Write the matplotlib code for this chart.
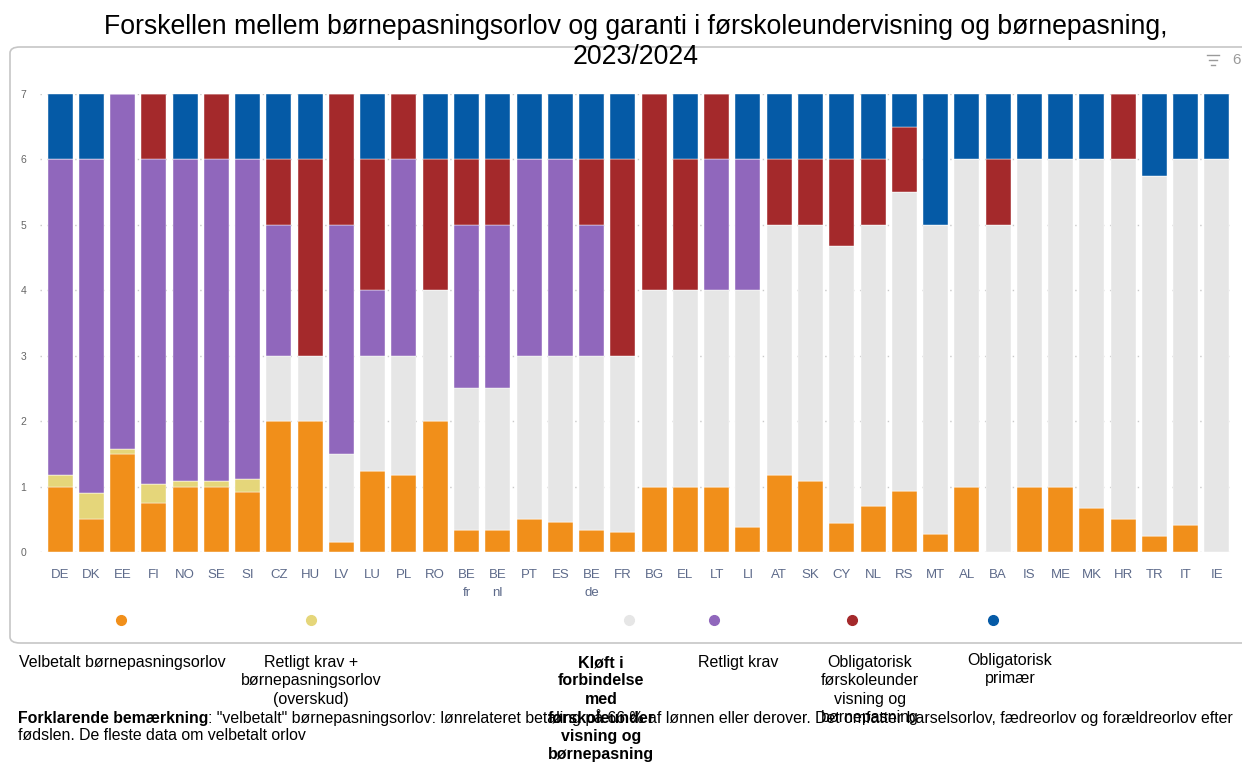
import numpy as np
import matplotlib.pyplot as plt
from matplotlib.patches import FancyBboxPatch
from matplotlib.lines import Line2D

plt.rcParams['font.family'] = ['Liberation Sans', 'DejaVu Sans']

# categories
countries = ['DE', 'DK', 'EE', 'FI', 'NO', 'SE', 'SI', 'CZ', 'HU', 'LV', 'LU', 'PL', 'RO',
             'BE\nfr', 'BE\nnl', 'PT', 'ES', 'BE\nde', 'FR', 'BG', 'EL', 'LT', 'LI', 'AT', 'SK',
             'CY', 'NL', 'RS', 'MT', 'AL', 'BA', 'IS', 'ME', 'MK', 'HR', 'TR', 'IT', 'IE']

# series values (years), stacked bottom -> top
velbetalt = [1.0, 0.5, 1.5, 0.75, 1.0, 1.0, 0.92, 2.0, 2.0, 0.16, 1.24, 1.17, 2.0,
             0.33, 0.33, 0.5, 0.46, 0.33, 0.31, 1.0, 1.0, 1.0, 0.38, 1.17, 1.08,
             0.44, 0.7, 0.93, 0.27, 1.0, 0.0, 1.0, 1.0, 0.67, 0.5, 0.25, 0.42, 0.0]
overskud = [0.17, 0.4, 0.08, 0.29, 0.08, 0.08, 0.19, 0, 0, 0, 0, 0, 0,
            0, 0, 0, 0, 0, 0, 0, 0, 0, 0, 0, 0,
            0, 0, 0, 0, 0, 0, 0, 0, 0, 0, 0, 0, 0]
kloft = [0, 0, 0, 0, 0, 0, 0, 1.0, 1.0, 1.34, 1.76, 1.83, 2.0,
         2.17, 2.17, 2.5, 2.54, 2.67, 2.69, 3.0, 3.0, 3.0, 3.62, 3.83, 3.92,
         4.23, 4.3, 4.57, 4.73, 5.0, 5.0, 5.0, 5.0, 5.33, 5.5, 5.5, 5.58, 6.0]
retligt = [4.83, 5.1, 5.42, 4.96, 4.92, 4.92, 4.89, 2.0, 0, 3.5, 1.0, 3.0, 0,
           2.5, 2.5, 3.0, 3.0, 2.0, 0, 0, 0, 2.0, 2.0, 0, 0,
           0, 0, 0, 0, 0, 0, 0, 0, 0, 0, 0, 0, 0]
oblig_forskole = [0, 0, 0, 1.0, 0, 1.0, 0, 1.0, 3.0, 2.0, 2.0, 1.0, 2.0,
                  1.0, 1.0, 0, 0, 1.0, 3.0, 3.0, 2.0, 1.0, 0, 1.0, 1.0,
                  1.33, 1.0, 1.0, 0, 0, 1.0, 0, 0, 0, 1.0, 0, 0, 0]
oblig_primaer = [1.0, 1.0, 0, 0, 1.0, 0, 1.0, 1.0, 1.0, 0, 1.0, 0, 1.0,
                 1.0, 1.0, 1.0, 1.0, 1.0, 1.0, 0, 1.0, 0, 1.0, 1.0, 1.0,
                 1.0, 1.0, 0.5, 2.0, 1.0, 1.0, 1.0, 1.0, 1.0, 0, 1.25, 1.0, 1.0]

series = [velbetalt, overskud, kloft, retligt, oblig_forskole, oblig_primaer]
colors = ['#F18F1A', '#E5D67A', '#E6E6E6', '#9067BC', '#A4292B', '#055AA6']
labels = ['Velbetalt børnepasningsorlov',
          'Retligt krav +\nbørnepasningsorlov\n(overskud)',
          'Kløft i\nforbindelse\nmed\nførskoleunder\nvisning og\nbørnepasning',
          'Retligt krav',
          'Obligatorisk\nførskoleunder\nvisning og\nbørnepasning',
          'Obligatorisk\nprimær']

W, H = 1242, 763
fig = plt.figure(figsize=(W / 100, H / 100), dpi=100)


def fx(px):
    return px / W


def fy(py):
    return 1 - py / H


# card background
card = FancyBboxPatch((fx(10), fy(643)), fx(1260) - fx(10), fy(47) - fy(643),
                      boxstyle='round,pad=0,rounding_size=0.008',
                      transform=fig.transFigure, facecolor='white',
                      edgecolor='#c6c6c6', linewidth=1.2, zorder=-5)
fig.patches.append(card)

fig.text(0.512, fy(42), 'Forskellen mellem børnepasningsorlov og garanti i førskoleundervisning og børnepasning,\n2023/2024',
         ha='center', va='center', fontsize=19.2, color='black', linespacing=1.15, zorder=5)

# filter icon in the top right
for w, yy in [(12, 55), (8, 60), (4, 65)]:
    fig.add_artist(Line2D([fx(1213 - w / 2), fx(1213 + w / 2)], [fy(yy), fy(yy)],
                          transform=fig.transFigure, color='#9a9a9a', lw=1))
fig.text(fx(1232), fy(60), '6', fontsize=11, color='#9a9a9a', va='center', ha='left')

ax = fig.add_axes([fx(40), fy(552), fx(1232) - fx(40), (552 - 94) / H])
ax.set_zorder(2)
x = np.arange(len(countries))
bottom = np.zeros(len(countries))
for vals, c in zip(series, colors):
    v = np.array(vals, dtype=float)
    ax.bar(x, v, bottom=bottom, width=0.8, color=c, edgecolor='white', linewidth=0.3, zorder=3)
    bottom += v

ax.set_xlim(-0.64, 37.48)
ax.set_ylim(0, 7)
ax.set_yticks(range(8))
ax.yaxis.grid(True, linestyle=(0, (1, 4)), color='#c8c8c8', linewidth=1, zorder=0)
for s in ax.spines.values():
    s.set_visible(False)
ax.tick_params(axis='y', length=0, labelsize=7.5, labelcolor='#666666', pad=10)
ax.set_xticks(x)
ax.set_xticklabels(countries, fontsize=9.5, color='#5d6a8a', linespacing=1.75)
ax.tick_params(axis='x', length=0, pad=12)
ax.set_facecolor('none')

# legend dots
dot_x = [121, 311, 629, 714, 852, 993]
for px, c in zip(dot_x, colors):
    fig.add_artist(Line2D([fx(px)], [fy(620)], marker='o', markersize=7, color=c,
                          linestyle='none', transform=fig.transFigure))

# legend labels under the card
lab_pos = [(122, 655), (311, 655), (601, 655), (738, 655), (870, 655), (1010, 653)]
for (px, py), lab, k in zip(lab_pos, labels, range(6)):
    fig.text(fx(px), fy(py), lab, ha='center', va='top', fontsize=11.5,
             fontweight='bold' if k == 2 else 'normal', color='black', linespacing=1.29)

# explanatory note: bold lead-in followed by normal text
note_b = fig.text(fx(18), fy(723), 'Forklarende bemærkning', fontsize=11.45,
                  fontweight='bold', va='baseline')
renderer = fig.canvas.get_renderer()
bw = note_b.get_window_extent(renderer).width
fig.text(fx(18 + bw), fy(723),
         ': "velbetalt" børnepasningsorlov: lønrelateret betaling på 66 % af lønnen eller derover. '
         'Det omfatter barselsorlov, fædreorlov og forældreorlov efter', fontsize=11.45, va='baseline')
fig.text(fx(18), fy(740), 'fødslen. De fleste data om velbetalt orlov', fontsize=11.45, va='baseline')

fig.savefig('out.png', dpi=100)
